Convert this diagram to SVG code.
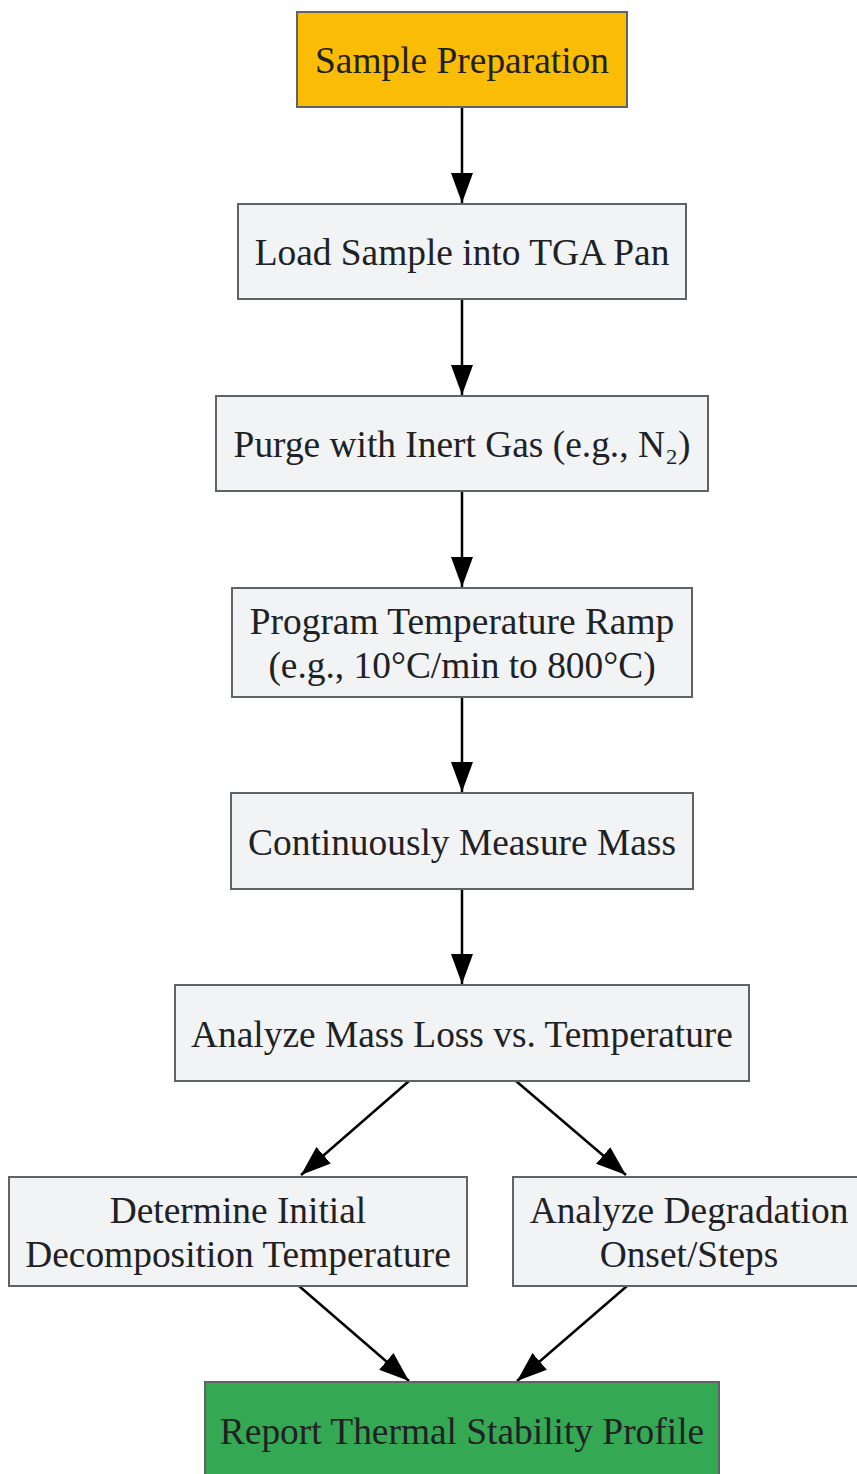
<svg xmlns="http://www.w3.org/2000/svg" width="857" height="1474" viewBox="0 0 857 1474">
<style>
.box{fill:#F1F3F4;stroke:#5F6368;stroke-width:2}
.start{fill:#FBBC05;stroke:#5F6368;stroke-width:2}
.end{fill:#34A853;stroke:#5F6368;stroke-width:2}
.t{font-family:"Liberation Serif","Times New Roman",serif;font-size:37.4px;fill:#202124;text-anchor:middle}
.e{stroke:#000;stroke-width:2.5;fill:none;marker-end:url(#ah)}
</style>
<defs>
<marker id="ah" markerUnits="userSpaceOnUse" markerWidth="32" markerHeight="24" refX="30" refY="12" orient="auto">
<path d="M0,1 L30,12 L0,23 Z" fill="#000"/>
</marker>
</defs>
<rect width="857" height="1474" fill="#fff"/>
<g id="connectors">
<line class="e" x1="462" y1="107" x2="462" y2="203"/>
<line class="e" x1="462" y1="299" x2="462" y2="395"/>
<line class="e" x1="462" y1="491" x2="462" y2="587"/>
<line class="e" x1="462" y1="697" x2="462" y2="792"/>
<line class="e" x1="462" y1="889" x2="462" y2="984"/>
<line class="e" x1="409" y1="1081" x2="301" y2="1175"/>
<line class="e" x1="516" y1="1081" x2="626" y2="1175"/>
<line class="e" x1="299" y1="1286" x2="409" y2="1381"/>
<line class="e" x1="627" y1="1286" x2="517" y2="1381"/>
</g>
<g id="n1"><rect class="start" x="297" y="12" width="330" height="95"/><text class="t" x="462" y="73">Sample Preparation</text></g>
<g id="n2"><rect class="box" x="238" y="204" width="448" height="95"/><text class="t" x="462" y="265">Load Sample into TGA Pan</text></g>
<g id="n3"><rect class="box" x="216" y="396" width="492" height="95"/><text class="t" x="462" y="457">Purge with Inert Gas (e.g., N₂)</text></g>
<g id="n4"><rect class="box" x="232" y="588" width="460" height="109"/><text class="t" x="462" y="634">Program Temperature Ramp</text><text class="t" x="462" y="678">(e.g., 10°C/min to 800°C)</text></g>
<g id="n5"><rect class="box" x="231" y="793" width="462" height="96"/><text class="t" x="462" y="855">Continuously Measure Mass</text></g>
<g id="n6"><rect class="box" x="175" y="985" width="574" height="96"/><text class="t" x="462" y="1047">Analyze Mass Loss vs. Temperature</text></g>
<g id="n7"><rect class="box" x="9" y="1177" width="458" height="109"/><text class="t" x="238" y="1223">Determine Initial</text><text class="t" x="238" y="1267">Decomposition Temperature</text></g>
<g id="n8"><rect class="box" x="513" y="1177" width="352" height="109"/><text class="t" x="689" y="1223">Analyze Degradation</text><text class="t" x="689" y="1267">Onset/Steps</text></g>
<g id="n9"><rect class="end" x="205" y="1382" width="514" height="100"/><text class="t" x="462" y="1444">Report Thermal Stability Profile</text></g>
</svg>
